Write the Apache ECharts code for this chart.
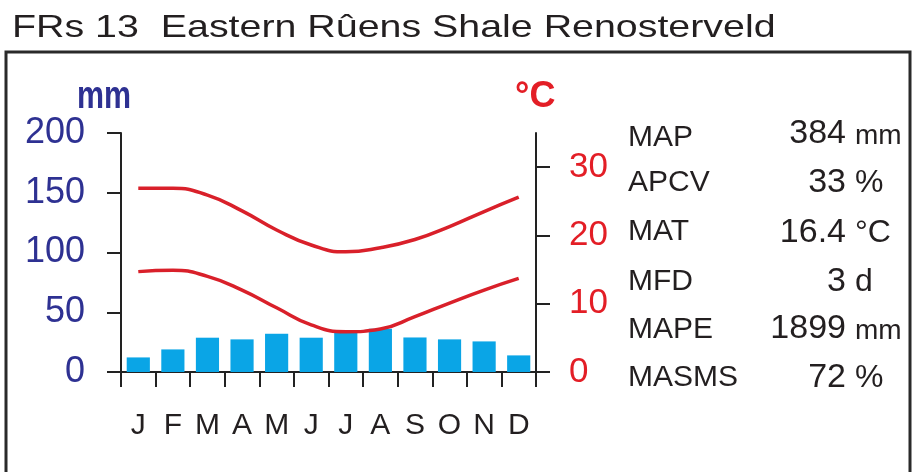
<!DOCTYPE html>
<html><head><meta charset="utf-8">
<script src="https://cdn.jsdelivr.net/npm/echarts@6/dist/echarts.min.js"></script>
<style>html,body{margin:0;padding:0;background:#fff}#c{width:913px;height:472px}</style>
</head><body><div id="c"></div>
<script>
const months = ['J','F','M','A','M','J','J','A','S','O','N','D'];
const rainfall = [12.2,18.9,28.7,27.3,32,28.7,33.5,36.2,28.9,27.3,25.6,13.9];
const tempMax = [26.9,26.9,25.9,23.6,20.8,18.6,17.6,18.2,19.4,21.3,23.5,25.6];
const tempMin = [14.7,14.9,14.0,12.0,9.4,6.9,5.9,6.3,8.1,10.1,12.0,13.7];
const rainTicks = [0,50,100,150,200];
const tempTicks = [0,10,20,30];
const statNames = ['MAP','APCV','MAT','MFD','MAPE','MASMS'];
const statValues = ['384','33','16.4','3','1899','72'];
const statUnits = ['mm','%','°C','d','mm','%'];
const titleText = 'FRs 13  Eastern Rûens Shale Renosterveld';

const FF = '"Liberation Sans", Arial, Helvetica, sans-serif';
const NAVY = '#2e3192';
const RED = '#e31e26';
const DARK = '#231f20';

const nameY = [138,183,232,282,330,378];
const valY = [133.5,183,233,282,328.5,378];

function txt(x, y, text, font, fill, align, extra) {
  return Object.assign({
    type: 'text', x: x, y: y, silent: true,
    style: { text: text, font: font, fill: fill,
      align: align, textAlign: align, verticalAlign: 'middle', textVerticalAlign: 'middle' }
  }, extra || {});
}

const graphics = [
  { type: 'rect', shape: { x: 6, y: 52, width: 904, height: 460 },
    style: { fill: 'none', stroke: '#2a2a2a', lineWidth: 3 }, silent: true },
  txt(12, 28.5, titleText, '32px ' + FF, DARK, 'left', { scaleX: 1.23 }),
  txt(77, 98, 'mm', 'bold 38px ' + FF, NAVY, 'left', { scaleX: 0.8 }),
  txt(515, 97, '°C', 'bold 36px ' + FF, RED, 'left')
];
statNames.forEach(function (n, i) {
  graphics.push(txt(628, nameY[i], n, '30px ' + FF, DARK, 'left'));
  graphics.push(txt(846, valY[i], statValues[i], '34px ' + FF, DARK, 'right'));
  const u = statUnits[i];
  if (u === 'mm') {
    graphics.push(txt(855, valY[i] + 0.358 * 34 - 0.3465 * 28, u, '28px ' + FF, DARK, 'left'));
  } else {
    graphics.push(txt(855, valY[i], u, '32px ' + FF, DARK, 'left'));
  }
});

const chart = echarts.init(document.getElementById('c'), null, { renderer: 'canvas' });
chart.setOption({
  animation: false,
  backgroundColor: '#fff',
  grid: { left: 121, right: 377, top: 133, bottom: 100, containLabel: false },
  xAxis: {
    type: 'category', data: months, boundaryGap: true,
    axisLine: { show: true, lineStyle: { color: '#222', width: 2 } },
    axisTick: { show: true, length: 15, inside: false, lineStyle: { color: '#222', width: 2 } },
    axisLabel: { fontSize: 30, fontFamily: FF, color: DARK, margin: 39, interval: 0 },
    splitLine: { show: false }
  },
  yAxis: [
    {
      type: 'value', min: 0, max: 200, interval: 50, position: 'left',
      axisLine: { show: true, lineStyle: { color: '#222', width: 2 } },
      axisTick: { show: true, length: 14, inside: false, lineStyle: { color: '#222', width: 2 } },
      axisLabel: { fontSize: 36, fontFamily: FF, color: NAVY, margin: 36,
        customValues: rainTicks },
      splitLine: { show: false }
    },
    {
      type: 'value', min: 0, max: 35, interval: 10, position: 'right',
      axisLine: { show: true, lineStyle: { color: '#222', width: 2 } },
      axisTick: { show: true, length: 14, inside: false, lineStyle: { color: '#222', width: 2 },
        customValues: tempTicks },
      axisLabel: { fontSize: 35, fontFamily: FF, color: RED, margin: 33,
        customValues: tempTicks },
      splitLine: { show: false }
    }
  ],
  series: [
    { type: 'bar', data: rainfall, yAxisIndex: 0, barCategoryGap: '33%',
      itemStyle: { color: '#0aa5e6' }, z: 2 },
    { type: 'line', data: tempMax, yAxisIndex: 1, smooth: 0.5, symbol: 'none',
      lineStyle: { color: '#d9202a', width: 3.5 }, z: 3 },
    { type: 'line', data: tempMin, yAxisIndex: 1, smooth: 0.5, symbol: 'none',
      lineStyle: { color: '#d9202a', width: 3.5 }, z: 3 }
  ],
  graphic: graphics
});
</script>
</body></html>
